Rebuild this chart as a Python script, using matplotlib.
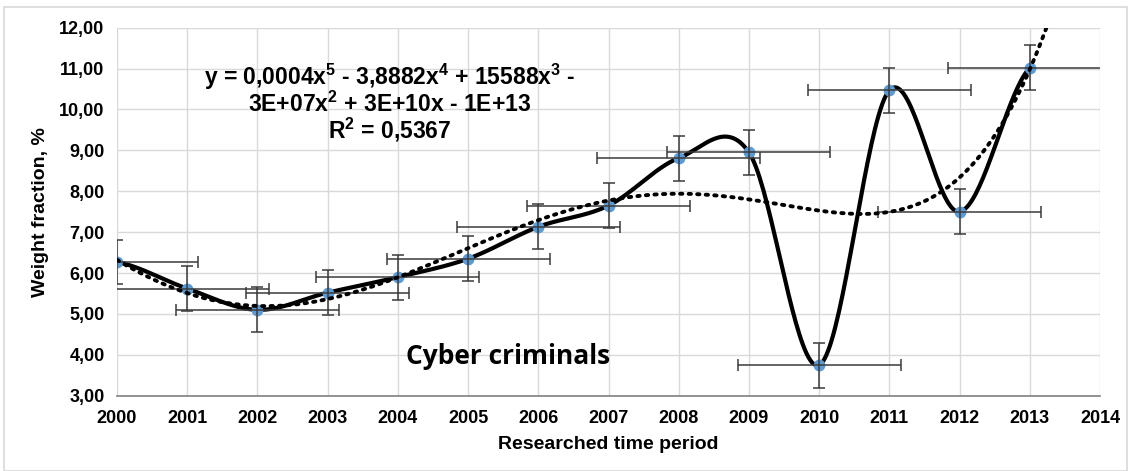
import numpy as np
import matplotlib
matplotlib.use("Agg")
import matplotlib.pyplot as plt
from matplotlib.patches import Rectangle

years = [2000, 2001, 2002, 2003, 2004, 2005, 2006, 2007, 2008, 2009, 2010, 2011, 2012, 2013]
values = [6.27, 5.62, 5.10, 5.52, 5.90, 6.35, 7.13, 7.65, 8.81, 8.95, 3.75, 10.47, 7.50, 11.02]
y_err = 0.55
x_err = 1.16
x_ticks = list(range(2000, 2015))
y_ticks = [3, 4, 5, 6, 7, 8, 9, 10, 11, 12]
eq_lines = [r"y = 0,0004$x^{5}$ - 3,8882$x^{4}$ + 15588$x^{3}$ -",
            r"3E+07$x^{2}$ + 3E+10x - 1E+13",
            r"$R^{2}$ = 0,5367"]
title_text = "Cyber criminals"
xlabel = "Researched time period"
ylabel = "Weight fraction, %"

FONT = ['Liberation Sans', 'DejaVu Sans']
plt.rcParams['font.family'] = FONT
plt.rcParams['mathtext.fontset'] = 'custom'
plt.rcParams['mathtext.rm'] = 'Liberation Sans:bold'
plt.rcParams['mathtext.it'] = 'Liberation Sans:bold'
plt.rcParams['mathtext.bf'] = 'Liberation Sans:bold'
plt.rcParams['mathtext.default'] = 'rm'


def catmull_rom(x, y, n=40):
    x = np.asarray(x, float)
    y = np.asarray(y, float)
    px = np.concatenate([[2 * x[0] - x[1]], x, [2 * x[-1] - x[-2]]])
    py = np.concatenate([[y[0]], y, [y[-1]]])
    xs, ys = [], []
    for i in range(1, len(px) - 2):
        p0x, p1x, p2x, p3x = px[i - 1], px[i], px[i + 1], px[i + 2]
        p0y, p1y, p2y, p3y = py[i - 1], py[i], py[i + 1], py[i + 2]
        c1x = p1x + (p2x - p0x) / 6.0
        c1y = p1y + (p2y - p0y) / 6.0
        c2x = p2x - (p3x - p1x) / 6.0
        c2y = p2y - (p3y - p1y) / 6.0
        t = np.linspace(0, 1, n)
        bx = (1 - t) ** 3 * p1x + 3 * (1 - t) ** 2 * t * c1x + 3 * (1 - t) * t ** 2 * c2x + t ** 3 * p2x
        by = (1 - t) ** 3 * p1y + 3 * (1 - t) ** 2 * t * c1y + 3 * (1 - t) * t ** 2 * c2y + t ** 3 * p2y
        xs.append(bx)
        ys.append(by)
    return np.concatenate(xs), np.concatenate(ys)


fig = plt.figure(figsize=(11.28, 4.71), dpi=100)
fig.patch.set_facecolor('white')
fig.patches.append(Rectangle((4 / 1128, 0.0), 1 - 4 / 1128 - 0.001, 1 - 7 / 471,
                             transform=fig.transFigure, fill=False,
                             edgecolor='#D9D9D9', linewidth=1.2))

ax = fig.add_axes([117 / 1128, 1 - 395.7 / 471, (1100 - 117) / 1128, (395.7 - 27.7) / 471])
ax.set_xlim(2000, 2014)
ax.set_ylim(3, 12)
ax.set_xticks(x_ticks)
ax.set_yticks(y_ticks)
ax.set_xticklabels([str(t) for t in x_ticks], fontsize=13, fontweight='bold')
ax.set_yticklabels([f"{t:.2f}".replace('.', ',') for t in y_ticks], fontsize=13, fontweight='bold')
ax.tick_params(axis='x', length=0, pad=10)
ax.tick_params(axis='y', length=0, pad=9)
ax.grid(True, color='#D9D9D9', linewidth=1.0)
ax.set_axisbelow(True)
for s in ['top', 'right', 'left']:
    ax.spines[s].set_visible(False)
ax.spines['bottom'].set_color('#808080')
ax.spines['bottom'].set_linewidth(1.2)
ax.spines['bottom'].set_zorder(2.5)

# smooth line
sx, sy = catmull_rom(years, values)
ax.plot(sx, sy, color='black', linewidth=3, solid_capstyle='round', zorder=3)

# markers
ax.plot(years, values, linestyle='none', marker='o', markersize=7.5,
        markerfacecolor='#5B9BD5', markeredgecolor='#5B9BD5', zorder=4)

# error bars
ax.errorbar(years, values, yerr=y_err, xerr=x_err, fmt='none', ecolor='#3a3a3a',
            elinewidth=1.1, capsize=4, capthick=1.1, zorder=5)

# polynomial trendline (degree 5)
xc = np.asarray(years, float) - 2000
coef = np.polyfit(xc, values, 5)
tx = np.linspace(2000, 2013.6, 400)
ty = np.polyval(coef, tx - 2000)
ax.plot(tx, ty, color='black', linestyle=(0, (0.6, 1.6)), linewidth=2.8,
        dash_capstyle='round', zorder=6)

# labels
ax.set_xlabel(xlabel, fontsize=14, fontweight='bold', labelpad=7)
ax.set_ylabel(ylabel, fontsize=14, fontweight='bold', labelpad=7)

# equation text
eq_x = 390 / 1128
for i, line in enumerate(eq_lines):
    fig.text(eq_x, 1 - (85 + i * 26.5) / 471, line, ha='center', va='baseline',
             fontsize=16.5, fontweight='bold', family=FONT)

fig.text(406 / 1128, 1 - 356 / 471, title_text, ha='left', va='center',
         fontsize=19, fontweight='bold', family=['Open Sans', 'DejaVu Sans'])

fig.savefig('out.png', dpi=100, facecolor='white')
